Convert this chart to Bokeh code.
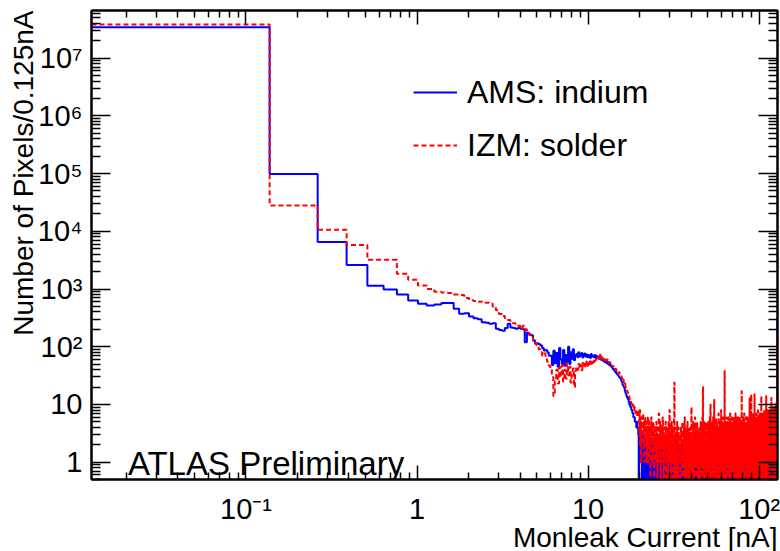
import numpy as np
from bokeh.plotting import figure
from bokeh.models import FixedTicker, LogAxis, Label, Legend, LegendItem, Range1d, Title
from bokeh.embed import file_html
from bokeh.resources import INLINE

# ---------------- data ----------------
BIN_WIDTH = 0.125          # nA per bin
FIRST_EDGE = 0.0125        # lower edge of first bin (nA)

x_major = [0.1, 1, 10, 100]
x_labels = ["10⁻¹", "1", "10", "10²"]
y_major = [1, 10, 100, 1e3, 1e4, 1e5, 1e6, 1e7]
y_labels = ["1", "10", "10²", "10³", "10⁴", "10⁵", "10⁶", "10⁷"]

# AMS: indium, bins 0..157 (0.0125 - 19.76 nA)
ams_head = [
    34400000, 98000, 6500, 2600, 1140, 976, 800, 635, 556, 520,
    540, 570, 570, 455, 372, 380, 335, 310, 300, 265,
    260, 250, 255, 205, 195, 190, 210, 250, 215, 210,
    205, 212, 205, 200, 120, 175, 165, 158, 130, 113,
    115, 110, 105, 95, 86, 88, 80, 70, 70, 48,
    85, 52, 78, 45, 95, 60, 50, 88, 47, 72,
    55, 100, 50, 80, 62, 90, 58, 70, 75, 66,
    80, 68, 72, 78, 65, 70, 76, 68, 73, 66,
    72, 70, 64, 75, 68, 70, 66, 72, 64, 70,
    66, 68, 62, 65, 60, 66, 58, 62, 56, 60,
    54, 58, 52, 56, 50, 54, 48, 50, 46, 45,
    44, 42, 40, 41, 38, 36, 37, 34, 33, 32,
    31, 30, 29, 28, 27, 25, 24, 22, 21, 20,
    19, 17, 16, 15, 14, 13, 13, 12, 11, 10,
    11, 9, 9, 8, 8, 7, 7, 6, 6, 6,
    5, 5, 5, 4, 5, 4, 4, 3,
]
# AMS: indium, bins 158..1022 (19.76 - 127.89 nA)
ams_tail = [
    0,4,2,3,1,3,2,0,2,3, 1,2,0,2,1,3,1,0,2,1, 1,2,0,1,3,1,0,1,2,0, 1,1,0,2,1,0,1,3,0,1,
    1,0,2,1,0,1,1,3,0,1, 2,0,1,0,2,1,1,0,1,2, 0,0,1,1,0,2,1,0,1,0, 1,2,0,1,1,0,0,2,1,0,
    1,1,0,2,0,1,0,1,2,1, 0,0,1,1,0,2,1,0,1,0, 0,1,2,0,1,1,0,1,0,2, 1,0,0,1,1,0,1,2,0,1,
    0,1,1,0,2,1,0,1,0,0, 1,2,1,0,1,1,0,0,2,1, 0,1,1,0,1,0,2,0,1,1, 0,1,0,1,2,0,1,0,1,1,
    0,2,1,0,1,0,1,1,0,2, 0,1,1,0,0,1,2,1,0,1, 0,1,0,2,1,1,0,0,1,1, 0,2,0,1,0,1,1,0,2,0,
    1,0,1,1,0,2,1,0,1,0, 1,2,0,1,1,0,1,0,2,1, 0,1,0,1,1,0,2,1,0,0, 1,1,0,1,2,0,1,0,1,0,
    2,1,0,1,0,1,1,2,0,1, 0,1,0,2,1,1,0,1,0,1, 2,0,1,1,0,2,2,2,1,0, 1,0,1,1,0,2,1,0,1,1,
    0,1,2,0,1,1,0,2,2,2, 2,1,0,1,0,1,2,1,0,1, 1,0,2,1,0,1,0,2,1,1, 0,1,0,2,1,0,1,1,2,0,
    1,0,2,1,1,0,1,2,0,1, 2,2,2,2,1,0,1,0,2,1, 1,0,1,0,1,2,0,1,1,0, 2,1,0,1,0,1,1,0,2,1,
    0,1,2,2,2,1,0,1,0,2, 1,0,1,1,0,2,2,2,2,1, 0,1,1,0,1,2,0,1,0,1, 2,1,0,1,2,2,2,0,1,0,
    1,2,0,1,1,0,2,2,2,1, 0,1,0,1,2,1,0,2,2,2, 2,2,1,0,1,1,0,1,0,2, 1,1,0,1,0,1,2,1,0,1,
    1,0,1,2,0,1,0,1,1,2, 0,1,0,1,1,0,2,1,0,1, 0,1,1,0,2,1,0,1,1,0, 1,0,2,1,0,1,1,0,1,0,
    0,1,1,0,2,1,0,1,0,1, 1,0,1,2,0,1,0,0,1,1, 0,2,1,0,1,0,1,1,0,1, 2,0,1,1,0,1,0,1,0,1,
    1,0,1,1,0,1,2,0,1,0, 1,0,1,1,0,1,0,2,1,0, 1,1,0,1,0,1,1,0,2,0, 1,1,0,1,0,1,1,2,0,1,
    0,1,0,1,1,0,2,1,0,1, 0,1,1,0,1,0,1,2,0,1, 1,0,1,0,1,1,0,2,1,0, 1,0,1,1,0,1,2,0,1,0,
    1,1,0,1,2,0,1,0,1,1, 0,1,0,2,1,0,1,1,0,1, 0,1,2,1,0,1,0,1,1,0, 2,1,0,1,1,0,1,0,1,2,
    0,1,1,0,1,0,2,1,1,0, 1,0,1,1,2,0,1,0,1,1, 0,2,1,0,1,1,0,1,2,0, 1,0,1,1,0,2,1,1,0,1,
    1,0,2,1,0,1,1,0,1,2, 0,1,1,0,1,0,2,1,1,0, 1,0,1,2,1,0,1,1,0,2, 1,0,1,0,1,1,2,0,1,1,
    0,1,2,1,0,1,1,0,2,1, 0,1,1,2,0,1,0,1,2,1, 0,1,1,0,2,1,1,0,1,0, 2,1,0,1,1,2,0,1,0,1,
    1,2,0,1,1,0,2,1,0,1, 1,2,0,1,0,1,2,1,1,0, 1,0,2,1,1,0,1,2,0,1, 1,0,2,1,0,1,1,2,0,1,
    1,0,2,1,1,0,2,1,0,1, 2,1,0,1,1,2,0,1,0,2, 1,1,0,2,1,0,1,1,2,0, 1,2,1,0,1,1,2,0,1,1,
    2,0,1,1,2,1,0,2,1,1, 0,2,1,1,2,0,1,2,1,1, 0,2,1,2,310,
]

# IZM: solder, bins 0..157
izm_head = [
    38400000, 28000, 10600, 5800, 3200, 3200, 1840, 1440, 1150, 1000,
    900, 870, 850, 800, 790, 700, 640, 620, 600, 610,
    580, 560, 500, 430, 370, 340, 310, 290, 270, 255,
    250, 230, 205, 230, 200, 170, 160, 145, 125, 115,
    105, 90, 80, 70, 76, 60, 55, 47, 40, 30,
    14, 25, 40, 23, 44, 30, 48, 25, 40, 28,
    51, 32, 45, 24, 38, 42, 20, 38, 45, 40,
    50, 42, 48, 39, 52, 45, 50, 44, 55, 47,
    52, 48, 56, 50, 54, 49, 57, 52, 58, 62,
    60, 66, 64, 76, 62, 68, 60, 65, 62, 58,
    63, 60, 57, 60, 56, 55, 52, 54, 50, 48,
    47, 45, 46, 43, 42, 40, 41, 38, 37, 36,
    35, 36, 34, 33, 32, 30, 28, 26, 27, 24,
    22, 23, 20, 19, 18, 17, 16, 15, 14, 13,
    12, 12, 11, 10, 10, 9, 10, 9, 8, 9,
    8, 7, 8, 7, 8, 6, 7, 8,
]
# IZM: solder, bins 158..1022
izm_tail = [
    7,3,8,2,5,1,6,4,2,7, 3,5,1,4,6,2,3,5,1,4, 2,6,3,1,5,2,4,0,3,6, 2,4,1,3,5,2,0,4,3,2,
    3,1,5,2,4,0,3,2,4,7, 1,2,3,5,0,2,4,1,3,2, 6,1,3,0,2,4,1,3,2,5, 0,3,1,4,2,3,0,2,5,1,
    3,8,3,1,4,0,2,3,5,1, 2,4,0,3,1,2,6,24,0,3, 1,4,2,0,3,2,1,5,2,3, 0,1,4,2,3,1,3,2,0,2,
    2,4,1,3,0,2,5,1,3,2, 0,4,2,1,3,6,0,2,3,1, 4,2,0,3,1,2,5,3,0,2, 1,4,2,3,0,1,3,2,4,1,
    2,0,3,9,1,4,2,3,0,2, 5,1,3,2,0,4,1,2,3,6, 0,2,1,3,4,0,2,3,1,5, 2,0,3,1,2,4,0,3,2,1,
    3,1,4,2,0,3,5,1,2,0, 4,3,1,2,6,0,3,20,2,1, 4,0,3,2,1,5,2,0,3,4, 1,2,0,3,5,1,2,4,0,3,
    2,4,1,3,0,5,2,3,1,0, 4,2,3,6,1,2,0,10,3,1, 4,2,0,3,5,1,2,4,0,3, 2,1,6,3,0,2,4,1,12,2,
    1,3,5,0,2,4,1,3,2,6, 0,3,1,4,2,0,5,3,1,2, 4,0,3,2,1,7,2,0,3,4, 1,2,5,0,3,1,2,4,0,3,
    2,8,1,3,0,4,2,5,1,3, 0,2,4,1,6,3,0,2,4,1, 3,2,0,5,38,1,3,2,4,0, 2,5,1,3,0,4,2,1,3,6,
    1,3,0,4,2,5,1,3,0,2, 4,6,1,3,0,2,5,1,4,2, 0,3,1,7,2,4,0,3,1,5, 2,3,0,4,1,2,6,0,3,2,
    4,1,3,0,5,2,4,1,3,0, 6,2,4,1,3,2,0,5,1,3, 4,2,0,7,3,1,4,2,0,3, 5,1,2,4,0,3,6,1,2,3,
    0,4,2,5,1,3,0,6,2,4, 1,3,0,5,2,3,1,4,0,2, 6,3,1,4,0,2,5,1,3,4, 0,2,5,1,17,3,0,4,2,1,
    3,5,0,2,4,1,6,3,0,2, 5,1,4,3,0,2,7,1,3,4, 0,2,5,1,3,0,4,6,2,1, 3,0,5,2,4,1,3,0,6,2,
    4,1,3,0,5,2,6,1,3,4, 0,2,5,3,1,4,0,6,2,3, 1,5,0,3,4,13,1,2,5,0, 3,4,1,6,2,0,3,5,1,4,
    2,15,3,1,5,0,4,2,6,1, 3,0,5,2,4,1,7,3,0,2, 5,1,4,3,0,6,2,4,1,3, 5,0,2,15,4,1,3,6,0,2,
    5,1,3,4,0,2,6,3,1,5, 0,4,2,7,1,3,5,0,2,4, 6,1,3,0,5,2,4,1,8,3, 0,2,5,4,1,6,3,0,2,5,
    3,6,1,4,0,5,2,3,7,1, 4,0,6,2,5,3,1,4,0,7, 2,5,3,1,6,14,0,4,2,5, 3,1,6,0,4,2,7,3,1,5,
    4,2,6,0,5,3,1,7,2,4, 0,6,3,5,1,4,2,8,0,3, 6,2,5,1,4,7,0,3,5,2, 6,1,4,3,8,0,5,2,4,6,
    3,14,2,5,0,6,3,4,1,7, 2,5,0,4,6,3,1,8,2,5, 4,0,6,3,2,7,1,5,4,0, 6,2,3,8,1,5,4,2,7,3,
    5,2,6,0,4,7,3,1,5,6, 2,4,0,8,3,5,1,6,4,2, 7,0,5,3,6,13,1,4,7,2, 5,0,6,3,8,1,4,6,2,5,
    6,3,7,1,5,4,8,2,6,0, 5,7,3,4,9,1,6,5,2,7, 4,0,8,3,6,5,1,7,4,9, 2,6,3,5,8,0,6,4,7,5,
    7,4,9,2,6,5,10,3,7,6, 1,8,5,11,4,7,6,9,3,8, 12,5,7,9,205,
]

X_MIN, X_MAX = 0.0125, 128.0
Y_MIN, Y_MAX = 0.5, 6.7e7
FLOOR = 0.05   # empty bins are drawn below the visible range (like ROOT's log pad)


def step_path(counts):
    v = np.asarray(counts, dtype=float)
    n = len(v)
    edges = FIRST_EDGE + BIN_WIDTH * np.arange(n + 1)
    v = np.where(v > 0, v, FLOOR)
    xs = np.repeat(edges, 2)[1:-1]
    ys = np.repeat(v, 2)
    xs = np.append(xs, edges[-1])
    ys = np.append(ys, FLOOR)
    return xs, ys


FONT = "Liberation Sans"

p = figure(width=780, height=551, x_axis_type="log", y_axis_type="log",
           x_range=Range1d(X_MIN, X_MAX), y_range=Range1d(Y_MIN, Y_MAX),
           output_backend="svg", toolbar_location=None,
           min_border_left=91, min_border_right=3, min_border_top=10,
           min_border_bottom=72, background_fill_color="white",
           border_fill_color="white")
p.grid.visible = False
p.outline_line_color = "black"
p.outline_line_width = 2

xminor = [m * 10.0 ** d for d in (-2, -1, 0, 1, 2) for m in range(2, 10)]
yminor = [m * 10.0 ** d for d in range(-1, 8) for m in range(2, 10)]


def style_axis(ax, ticks, minor, labels, major_len, minor_len, standoff):
    ax.ticker = FixedTicker(ticks=ticks, minor_ticks=minor)
    ax.major_tick_in = major_len
    ax.major_tick_out = 0
    ax.minor_tick_in = minor_len
    ax.minor_tick_out = 0
    ax.axis_line_color = "black"
    ax.axis_line_width = 2
    ax.major_tick_line_color = "black"
    ax.major_tick_line_width = 1.5
    ax.minor_tick_line_color = "black"
    ax.minor_tick_line_width = 1.5
    ax.major_label_text_font = FONT
    ax.major_label_text_font_size = "29px"
    ax.major_label_text_color = "black"
    ax.major_label_standoff = standoff
    ax.major_label_overrides = {t: l for t, l in zip(ticks, labels)}


style_axis(p.xaxis[0], x_major, xminor, x_labels, 14, 7, 13)
style_axis(p.yaxis[0], y_major, yminor, y_labels, 19, 9, 9)

top = LogAxis()
style_axis(top, x_major, xminor, [""] * len(x_major), 14, 7, 0)
p.add_layout(top, "above")
right = LogAxis()
style_axis(right, y_major, yminor, [""] * len(y_major), 19, 9, 0)
p.add_layout(right, "right")

bx, by = step_path(ams_head + ams_tail)
rx, ry = step_path(izm_head + izm_tail)
rb = p.line(bx, by, line_color="#0000ff", line_width=2)
rr = p.line(rx, ry, line_color="#ff0000", line_width=2, line_dash="5 3")

legend = Legend(items=[LegendItem(label="AMS: indium", renderers=[rb]),
                       LegendItem(label="IZM: solder", renderers=[rr])],
                location=(322, 314), orientation="vertical",
                border_line_alpha=0, background_fill_alpha=0,
                glyph_width=44, glyph_height=40, label_height=40,
                label_standoff=10, spacing=13, padding=0, margin=0,
                label_text_font=FONT, label_text_font_size="32px",
                label_text_baseline="middle", label_text_color="black")
p.add_layout(legend)

p.add_layout(Label(x=0.0204, y=0.95, text="ATLAS Preliminary",
                   text_font=FONT, text_font_size="33px",
                   text_align="left", text_baseline="alphabetic",
                   text_color="black"))

x_title = Title(text="Monleak Current [nA]", align="right",
                text_font=FONT, text_font_size="28px",
                text_font_style="normal", text_color="black",
                standoff=-16, offset=0)
p.add_layout(x_title, "below")
y_title = Title(text="Number of Pixels/0.125nA", align="right",
                text_font=FONT, text_font_size="28px",
                text_font_style="normal", text_color="black",
                standoff=-8, offset=0)
p.add_layout(y_title, "left")

open("out.html", "w").write(file_html(p, INLINE))
